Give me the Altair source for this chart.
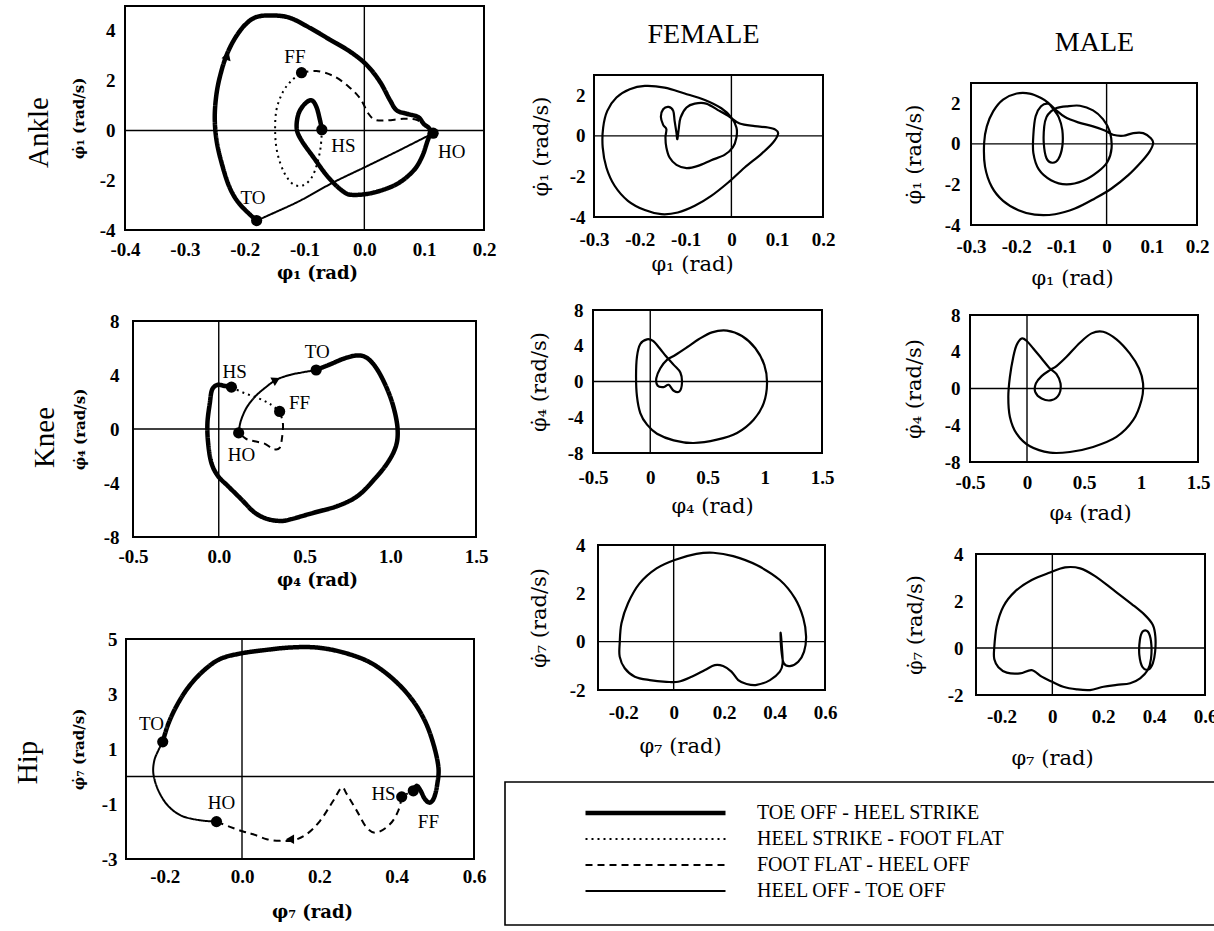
import altair as alt
import pandas as pd

W, H = 1214, 931
TICK_FONT = "Liberation Serif"
TITLE_FONT = "DejaVu Serif"
TEXT_FONT = "Liberation Serif"

# ---------------------------------------------------------------- gait phases
PHASES = ["TOE OFF - HEEL STRIKE", "HEEL STRIKE - FOOT FLAT",
          "FOOT FLAT - HEEL OFF", "HEEL OFF - TOE OFF"]
PHASE_DASH = [[1, 0], [2, 4], [7, 5], [1, 0]]
PHASE_WIDTH = [4.5, 2, 2, 2]

# ---------------------------------------------------------------- ankle (phi_1)
ANKLE_SWING_X = [-0.180, -0.208, -0.225, -0.238, -0.247, -0.250, -0.247, -0.240, -0.230, -0.216,
                 -0.199, -0.180, -0.152, -0.124, -0.091, -0.057, -0.024, 0.004, 0.026, 0.043,
                 0.054, 0.071, 0.090, 0.099, 0.110, 0.104, 0.096, 0.082, 0.054, 0.015,
                 -0.018, -0.035, -0.060, -0.085, -0.105, -0.113, -0.110, -0.099, -0.088, -0.080,
                 -0.074, -0.071]
ANKLE_SWING_Y = [-3.62, -2.97, -2.30, -1.35, -0.40, 0.54, 1.48, 2.29, 3.04, 3.71,
                 4.25, 4.56, 4.62, 4.52, 4.12, 3.64, 3.17, 2.63, 1.96, 1.21,
                 0.81, 0.67, 0.54, 0.27, 0.00, -0.54, -1.08, -1.62, -2.16, -2.50,
                 -2.59, -2.46, -1.89, -1.08, -0.40, 0.07, 0.67, 1.08, 1.21, 0.94,
                 0.40, 0.03]
ANKLE_LOAD_X = [-0.071, -0.073, -0.079, -0.088, -0.102, -0.119, -0.134, -0.145, -0.149, -0.147,
                -0.136, -0.121, -0.105]
ANKLE_LOAD_Y = [0.03, -0.67, -1.35, -1.89, -2.20, -2.16, -1.69, -0.94, -0.13, 0.81,
                1.55, 2.02, 2.32]
ANKLE_FLAT_X = [-0.105, -0.080, -0.052, -0.027, -0.007, 0.007, 0.018, 0.037, 0.065, 0.087,
                0.101, 0.115]
ANKLE_FLAT_Y = [2.32, 2.39, 2.19, 1.78, 1.28, 0.67, 0.43, 0.40, 0.47, 0.43,
                0.20, -0.11]
ANKLE_PUSH_X = [0.115, 0.060, 0.004, -0.052, -0.108, -0.163, -0.180]
ANKLE_PUSH_Y = [-0.11, -0.78, -1.44, -2.09, -2.83, -3.44, -3.62]
ANKLE_EVENT = ["TO", "HS", "FF", "HO"]
ANKLE_EVENT_X = [-0.180, -0.071, -0.105, 0.115]
ANKLE_EVENT_Y = [-3.62, 0.03, 2.32, -0.11]
ANKLE_TAG_X = [-0.186, -0.035, -0.116, 0.146]
ANKLE_TAG_Y = [-2.70, -0.61, 2.97, -0.88]
ANKLE_ARROW_X = [-0.229]
ANKLE_ARROW_Y = [3.00]

# ---------------------------------------------------------------- knee (phi_4)
KNEE_SWING_X = [0.568, 0.655, 0.733, 0.810, 0.868, 0.926, 0.984, 1.023, 1.043, 1.033,
                0.984, 0.907, 0.810, 0.694, 0.558, 0.422, 0.364, 0.287, 0.209, 0.132,
                0.054, -0.004, -0.043, -0.062, -0.066, -0.052, -0.039, -0.008, 0.035, 0.074]
KNEE_SWING_Y = [4.37, 4.82, 5.23, 5.45, 5.23, 4.37, 2.90, 1.43, -0.05, -1.28,
                -2.51, -3.73, -4.96, -5.70, -6.19, -6.68, -6.81, -6.68, -6.19, -5.21,
                -4.23, -3.49, -2.51, -1.03, 0.44, 1.92, 2.90, 3.27, 3.19, 3.10]
KNEE_LOAD_X = [0.074, 0.151, 0.229, 0.297, 0.355]
KNEE_LOAD_Y = [3.10, 2.65, 2.29, 1.87, 1.30]
KNEE_FLAT_X = [0.355, 0.374, 0.370, 0.355, 0.316, 0.267, 0.209, 0.161, 0.116]
KNEE_FLAT_Y = [1.30, 0.44, -0.54, -1.40, -1.47, -1.08, -0.91, -0.74, -0.29]
KNEE_PUSH_X = [0.116, 0.128, 0.161, 0.209, 0.267, 0.335, 0.413, 0.490, 0.568]
KNEE_PUSH_Y = [-0.29, 0.57, 1.55, 2.36, 3.02, 3.64, 4.00, 4.20, 4.37]
KNEE_EVENT = ["TO", "HS", "FF", "HO"]
KNEE_EVENT_X = [0.568, 0.074, 0.355, 0.116]
KNEE_EVENT_Y = [4.37, 3.10, 1.30, -0.29]
KNEE_TAG_X = [0.574, 0.093, 0.471, 0.132]
KNEE_TAG_Y = [5.72, 4.25, 1.92, -1.89]
KNEE_ARROW_X = [0.335]
KNEE_ARROW_Y = [3.64]

# ---------------------------------------------------------------- hip (phi_7)
HIP_SWING_X = [-0.205, -0.191, -0.169, -0.139, -0.100, -0.057, -0.005, 0.055, 0.124, 0.193,
               0.262, 0.331, 0.391, 0.439, 0.473, 0.495, 0.508, 0.505, 0.497, 0.486,
               0.473, 0.462, 0.452, 0.443]
HIP_SWING_Y = [1.26, 1.90, 2.57, 3.24, 3.84, 4.27, 4.47, 4.59, 4.69, 4.69,
               4.51, 4.15, 3.54, 2.81, 2.02, 1.18, 0.33, -0.28, -0.76, -0.95,
               -0.82, -0.52, -0.34, -0.52]
HIP_LOAD_X = [0.443, 0.428, 0.413]
HIP_LOAD_Y = [-0.52, -0.62, -0.74]
HIP_FLAT_X = [0.413, 0.404, 0.383, 0.348, 0.322, 0.297, 0.271, 0.258, 0.236, 0.202,
              0.167, 0.133, 0.098, 0.064, 0.029, 0.003, -0.031, -0.066]
HIP_FLAT_Y = [-0.74, -1.25, -1.73, -2.04, -1.85, -1.25, -0.64, -0.40, -0.88, -1.61,
              -2.10, -2.32, -2.34, -2.28, -2.10, -2.00, -1.83, -1.64]
HIP_PUSH_X = [-0.066, -0.109, -0.156, -0.191, -0.216, -0.229, -0.227, -0.216, -0.205]
HIP_PUSH_Y = [-1.64, -1.59, -1.43, -1.07, -0.52, 0.08, 0.57, 0.96, 1.26]
HIP_EVENT = ["TO", "HO", "HS", "FF"]
HIP_EVENT_X = [-0.205, -0.066, 0.443, 0.413]
HIP_EVENT_Y = [1.26, -1.64, -0.52, -0.74]
HIP_TAG_X = [-0.234, -0.053, 0.366, 0.482]
HIP_TAG_Y = [1.90, -0.95, -0.64, -1.64]
HIP_ARROW_X = [0.124]
HIP_ARROW_Y = [-2.28]

# ---------------------------------------------------------------- female cycles
F_ANKLE_X = [0.102, 0.091, 0.065, 0.029, -0.007, -0.044, -0.080, -0.117, -0.153, -0.189,
             -0.226, -0.255, -0.273, -0.281, -0.280, -0.271, -0.251, -0.222, -0.189, -0.146,
             -0.102, -0.058, -0.022, 0.000, 0.011, 0.011, 0.003, -0.015, -0.044, -0.073,
             -0.098, -0.120, -0.135, -0.142, -0.144, -0.142, -0.149, -0.154, -0.149, -0.137,
             -0.127, -0.124, -0.120, -0.118, -0.115, -0.111, -0.098, -0.080, -0.055, -0.026,
             -0.004, 0.018, 0.051, 0.080, 0.096]
F_ANKLE_Y = [0.11, -0.33, -0.90, -1.56, -2.30, -2.96, -3.45, -3.78, -3.86, -3.66,
             -3.20, -2.46, -1.56, -0.57, 0.41, 1.23, 1.89, 2.30, 2.46, 2.38,
             2.09, 1.77, 1.36, 0.90, 0.41, -0.08, -0.57, -0.94, -1.20, -1.48,
             -1.59, -1.43, -1.07, -0.57, -0.08, 0.33, 0.54, 0.94, 1.31, 1.43,
             1.23, 0.74, 0.16, -0.16, 0.33, 0.90, 1.40, 1.59, 1.59, 1.23,
             0.94, 0.61, 0.48, 0.41, 0.31]
F_KNEE_X = [-0.028, -0.087, -0.116, -0.124, -0.116, -0.087, -0.028, 0.059, 0.205, 0.379,
            0.583, 0.758, 0.903, 0.991, 1.020, 0.996, 0.918, 0.801, 0.670, 0.539,
            0.423, 0.321, 0.219, 0.146, 0.088, 0.053, 0.065, 0.117, 0.161, 0.205,
            0.254, 0.277, 0.263, 0.205, 0.140, 0.082, 0.024]
F_KNEE_Y = [4.72, 4.20, 2.79, 0.56, -1.67, -3.53, -4.83, -5.84, -6.58, -6.88,
            -6.51, -5.76, -4.28, -2.42, -0.19, 1.86, 3.72, 5.09, 5.69, 5.50,
            4.72, 3.83, 2.97, 2.42, 1.49, 0.37, -0.48, -0.63, -0.37, -1.04,
            -1.12, -0.19, 1.00, 1.86, 2.79, 3.72, 4.54]
F_HIP_X = [-0.214, -0.207, -0.181, -0.135, -0.068, 0.004, 0.090, 0.157, 0.236, 0.329,
           0.421, 0.481, 0.514, 0.525, 0.517, 0.494, 0.461, 0.437, 0.429, 0.425,
           0.424, 0.429, 0.432, 0.421, 0.382, 0.329, 0.289, 0.256, 0.229, 0.196,
           0.163, 0.124, 0.071, 0.018, -0.029, -0.095, -0.154, -0.194, -0.214]
F_HIP_Y = [-0.07, 0.76, 1.59, 2.41, 3.03, 3.38, 3.63, 3.68, 3.54, 3.17,
           2.55, 1.79, 0.97, 0.21, -0.41, -0.83, -1.01, -0.90, -0.52, -0.07,
           0.37, -0.21, -0.90, -1.24, -1.59, -1.79, -1.75, -1.59, -1.24, -1.01,
           -0.97, -1.17, -1.45, -1.66, -1.66, -1.59, -1.45, -1.10, -0.62]

# ---------------------------------------------------------------- male cycles
M_ANKLE_X = [0.103, 0.095, 0.077, 0.048, 0.011, -0.026, -0.070, -0.114, -0.159, -0.195,
             -0.229, -0.254, -0.269, -0.271, -0.265, -0.251, -0.229, -0.199, -0.170, -0.145,
             -0.129, -0.118, -0.106, -0.098, -0.098, -0.107, -0.120, -0.133, -0.139, -0.138,
             -0.133, -0.123, -0.111, -0.089, -0.059, -0.030, -0.008, 0.007, 0.011, 0.002,
             -0.019, -0.052, -0.089, -0.123, -0.150, -0.162, -0.162, -0.157, -0.145, -0.129,
             -0.113, -0.092, -0.063, -0.030, -0.004, 0.014, 0.037, 0.059, 0.081, 0.098]
M_ANKLE_Y = [0.03, -0.38, -0.88, -1.54, -2.20, -2.69, -3.19, -3.47, -3.49, -3.27,
             -2.81, -2.12, -1.12, 0.03, 0.86, 1.60, 2.18, 2.48, 2.48, 2.26,
             2.02, 1.72, 1.32, 0.69, -0.13, -0.76, -0.93, -0.71, 0.03, 0.86,
             1.32, 1.60, 1.77, 1.85, 1.88, 1.65, 1.22, 0.61, -0.21, -0.88,
             -1.37, -1.82, -2.00, -1.79, -1.26, -0.46, 0.45, 1.36, 1.85, 1.98,
             1.69, 1.32, 1.06, 0.86, 0.66, 0.45, 0.40, 0.53, 0.53, 0.28]
M_KNEE_X = [-0.047, -0.091, -0.120, -0.150, -0.164, -0.150, -0.091, 0.026, 0.201, 0.376,
            0.580, 0.785, 0.931, 1.004, 1.018, 0.983, 0.901, 0.785, 0.668, 0.566,
            0.464, 0.347, 0.259, 0.201, 0.128, 0.078, 0.072, 0.128, 0.215, 0.282,
            0.294, 0.259, 0.201, 0.128, 0.055, -0.004]
M_KNEE_Y = [5.45, 4.73, 3.45, 1.27, -0.91, -3.09, -4.91, -6.29, -6.98, -6.91,
            -6.36, -5.27, -3.45, -1.27, 0.55, 2.18, 3.82, 5.35, 6.18, 6.00,
            4.98, 3.45, 2.44, 2.00, 1.35, 0.55, -0.36, -1.09, -1.27, -0.62,
            0.55, 1.56, 2.18, 3.27, 4.36, 5.20]
M_HIP_X = [-0.229, -0.219, -0.193, -0.147, -0.081, -0.009, 0.050, 0.109, 0.168, 0.240,
           0.312, 0.364, 0.395, 0.405, 0.404, 0.395, 0.378, 0.355, 0.342, 0.344,
           0.355, 0.375, 0.388, 0.388, 0.375, 0.345, 0.306, 0.253, 0.201, 0.148,
           0.096, 0.043, -0.002, -0.042, -0.081, -0.127, -0.179, -0.212, -0.228]
M_HIP_Y = [-0.09, 0.91, 1.76, 2.40, 2.89, 3.21, 3.43, 3.39, 3.06, 2.47,
           1.87, 1.40, 0.98, 0.48, -0.16, -0.65, -0.91, -0.82, -0.30, 0.34,
           0.70, 0.70, 0.27, -0.44, -0.94, -1.29, -1.50, -1.57, -1.65, -1.79,
           -1.76, -1.65, -1.43, -1.22, -0.94, -1.08, -1.05, -0.82, -0.48]

# ---------------------------------------------------------------- axis ticks
ANKLE_XTICKS = [-0.4, -0.3, -0.2, -0.1, 0.0, 0.1, 0.2]
ANKLE_YTICKS = [-4, -2, 0, 2, 4]
KNEE_XTICKS = [-0.5, 0.0, 0.5, 1.0, 1.5]
KNEE_YTICKS = [-8, -4, 0, 4, 8]
HIP_XTICKS = [-0.2, 0.0, 0.2, 0.4, 0.6]
HIP_YTICKS = [-3, -1, 1, 3, 5]
SMALL_ANKLE_XTICKS = [-0.3, -0.2, -0.1, 0, 0.1, 0.2]
SMALL_ANKLE_YTICKS = [-4, -2, 0, 2]
SMALL_KNEE_XTICKS = [-0.5, 0, 0.5, 1, 1.5]
SMALL_KNEE_YTICKS = [-8, -4, 0, 4, 8]
SMALL_HIP_XTICKS = [-0.2, 0, 0.2, 0.4, 0.6]
SMALL_HIP_YTICKS = [-2, 0, 2, 4]

PHI_DOT = "\u03c6\u0307"
SUB = {1: "\u2081", 4: "\u2084", 7: "\u2087"}


def xt(n):
    return f"\u03c6{SUB[n]} (rad)"


def yt(n):
    return f"{PHI_DOT}{SUB[n]} (rad/s)"


# panel frames on the page: left, right, top, bottom (pixels) plus axis styling
PANELS = {
    "ankle": dict(box=(125, 484, 6, 230), xdom=[-0.4, 0.2], ydom=[-4, 5],
                  xticks=ANKLE_XTICKS, yticks=ANKLE_YTICKS, xfmt=".1f", yfmt="d",
                  xtitle=xt(1), ytitle=yt(1), big=True,
                  xlp=10, xtp=5, ylp=10, ytp=13, title_x=317),
    "knee": dict(box=(133, 476, 321, 537), xdom=[-0.5, 1.5], ydom=[-8, 8],
                 xticks=KNEE_XTICKS, yticks=KNEE_YTICKS, xfmt=".1f", yfmt="d",
                 xtitle=xt(4), ytitle=yt(4), big=True,
                 xlp=10, xtp=5, ylp=14, ytp=16, title_x=317),
    "hip": dict(box=(126, 474, 639, 859), xdom=[-0.3, 0.6], ydom=[-3, 5],
                xticks=HIP_XTICKS, yticks=HIP_YTICKS, xfmt=".1f", yfmt="d",
                xtitle=xt(7), ytitle=yt(7), big=True,
                xlp=8, xtp=17, ylp=9, ytp=15, title_x=312),
    "f_ankle": dict(box=(594, 823, 75, 217), xdom=[-0.3, 0.2], ydom=[-4, 3],
                    xticks=SMALL_ANKLE_XTICKS, yticks=SMALL_ANKLE_YTICKS, xfmt="~g", yfmt="d",
                    xtitle=xt(1), ytitle=yt(1), big=False,
                    xlp=13, xtp=4, ylp=9, ytp=18, title_x=692),
    "f_knee": dict(box=(593, 822, 310, 453), xdom=[-0.5, 1.5], ydom=[-8, 8],
                   xticks=SMALL_KNEE_XTICKS, yticks=SMALL_KNEE_YTICKS, xfmt="~g", yfmt="d",
                   xtitle=xt(4), ytitle=yt(4), big=False,
                   xlp=15, xtp=8, ylp=10, ytp=18, title_x=712),
    "f_hip": dict(box=(598, 825, 545, 690), xdom=[-0.3, 0.6], ydom=[-2, 4],
                  xticks=SMALL_HIP_XTICKS, yticks=SMALL_HIP_YTICKS, xfmt="~g", yfmt="d",
                  xtitle=xt(7), ytitle=yt(7), big=False,
                  xlp=13, xtp=13, ylp=13, ytp=20, title_x=680),
    "m_ankle": dict(box=(971, 1197, 83, 225), xdom=[-0.3, 0.2], ydom=[-4, 3],
                    xticks=SMALL_ANKLE_XTICKS, yticks=SMALL_ANKLE_YTICKS, xfmt="~g", yfmt="d",
                    xtitle=xt(1), ytitle=yt(1), big=False,
                    xlp=12, xtp=11, ylp=11, ytp=20, title_x=1072),
    "m_knee": dict(box=(970, 1198, 315, 462), xdom=[-0.5, 1.5], ydom=[-8, 8],
                   xticks=SMALL_KNEE_XTICKS, yticks=SMALL_KNEE_YTICKS, xfmt="~g", yfmt="d",
                   xtitle=xt(4), ytitle=yt(4), big=False,
                   xlp=11, xtp=10, ylp=10, ytp=20, title_x=1090),
    "m_hip": dict(box=(976, 1205, 554, 695), xdom=[-0.3, 0.6], ydom=[-2, 4],
                  xticks=SMALL_HIP_XTICKS, yticks=SMALL_HIP_YTICKS, xfmt="~g", yfmt="d",
                  xtitle=xt(7), ytitle=yt(7), big=False,
                  xlp=12, xtp=21, ylp=13, ytp=22, title_x=1052),
}

# box holding the phase legend (it runs on past the right edge of the page)
LEGEND_BOX = (505, 1240, 782, 925)

# big row labels (text, anchor x, centre y) and column headings (text, centre x, padding)
ROW_LABELS = {"ankle": ("Ankle", 53, 132), "knee": ("Knee", 59, 437), "hip": ("Hip", 42, 762)}
COL_HEADS = {"f_ankle": ("FEMALE", 703, 27), "m_ankle": ("MALE", 1094, 27)}


def label_expr(spec):
    return f"replace(format(datum.value, '{spec}'), '\u2212', '-')"


def scales(p):
    left, right, top, bottom = p["box"]
    xs = alt.Scale(domain=p["xdom"], range=[left, right], nice=False, zero=False)
    ys = alt.Scale(domain=p["ydom"], range=[bottom, top], nice=False, zero=False)
    return xs, ys


def x_fonts(p):
    if p["big"]:
        return dict(titleFont=TITLE_FONT, titleFontSize=18, titleFontWeight="bold")
    return dict(titleFont=TITLE_FONT, titleFontSize=21, titleFontWeight="normal")


def y_fonts(p):
    if p["big"]:
        return dict(titleFont=TITLE_FONT, titleFontSize=15, titleFontWeight="bold")
    return dict(titleFont=TITLE_FONT, titleFontSize=21, titleFontWeight="normal")


def x_axis(p):
    left, right, top, bottom = p["box"]
    return alt.Axis(orient="bottom", offset=bottom - H, values=p["xticks"],
                    labelExpr=label_expr(p["xfmt"]), title=p["xtitle"], titleX=p["title_x"],
                    titlePadding=p["xtp"], labelPadding=p["xlp"], ticks=False, domain=False,
                    grid=False, labelFlush=False, labelOverlap=False, labelFont=TICK_FONT,
                    labelFontSize=19, labelFontWeight="bold", labelColor="black",
                    titleColor="black", **x_fonts(p))


def y_axis(p):
    left, right, top, bottom = p["box"]
    return alt.Axis(orient="left", offset=-left, values=p["yticks"],
                    labelExpr=label_expr(p["yfmt"]), title=p["ytitle"],
                    titlePadding=p["ytp"], labelPadding=p["ylp"], ticks=False, domain=False,
                    grid=False, labelFlush=False, labelOverlap=False, labelFont=TICK_FONT,
                    labelFontSize=19, labelFontWeight="bold", labelColor="black",
                    titleColor="black", **y_fonts(p))


def frame_layers(key):
    p = PANELS[key]
    xs, ys = scales(p)
    box = pd.DataFrame({"x0": [p["xdom"][0]], "x1": [p["xdom"][1]],
                        "y0": [p["ydom"][0]], "y1": [p["ydom"][1]], "zero": [0.0]})
    frame = alt.Chart(box).mark_rect(fillOpacity=0, stroke="black", strokeWidth=2).encode(
        x=alt.X("x0:Q", scale=xs, axis=x_axis(p)), x2="x1:Q",
        y=alt.Y("y0:Q", scale=ys, axis=y_axis(p)), y2="y1:Q")

    if key in COL_HEADS:
        text, cx, pad = COL_HEADS[key]
        top_axis = alt.Axis(orient="top", offset=-p["box"][2], labels=False, ticks=False,
                            domain=False, grid=False, title=text, titleX=cx, titlePadding=pad,
                            titleFont=TEXT_FONT, titleFontSize=28, titleFontWeight="normal",
                            titleColor="black")
        vx = alt.X("zero:Q", scale=xs, axis=top_axis)
    else:
        vx = alt.X("zero:Q", scale=xs, axis=None)
    vrule = alt.Chart(box).mark_rule(color="black", strokeWidth=1.4).encode(
        x=vx, y=alt.Y("y0:Q", scale=ys, axis=None), y2="y1:Q")

    if key in ROW_LABELS:
        text, ax, cy = ROW_LABELS[key]
        row_axis = alt.Axis(orient="left", offset=-ax, labels=False, ticks=False, domain=False,
                            grid=False, title=text, titleY=cy, titlePadding=0,
                            titleFont=TEXT_FONT, titleFontSize=29, titleFontWeight="normal",
                            titleColor="black")
        hy = alt.Y("zero:Q", scale=ys, axis=row_axis)
    else:
        hy = alt.Y("zero:Q", scale=ys, axis=None)
    hrule = alt.Chart(box).mark_rule(color="black", strokeWidth=1.4).encode(
        y=hy, x=alt.X("x0:Q", scale=xs, axis=None), x2="x1:Q")
    return [frame, vrule, hrule]


def legend_box_layer():
    left, right, top, bottom = LEGEND_BOX
    xs = alt.Scale(domain=[0, 1], range=[left, right], nice=False, zero=False)
    ys = alt.Scale(domain=[0, 1], range=[bottom, top], nice=False, zero=False)
    box = pd.DataFrame({"x0": [0], "x1": [1], "y0": [0], "y1": [1]})
    return alt.Chart(box).mark_rect(fillOpacity=0, stroke="black", strokeWidth=1.6).encode(
        x=alt.X("x0:Q", scale=xs, axis=None), x2="x1:Q",
        y=alt.Y("y0:Q", scale=ys, axis=None), y2="y1:Q")


LEGEND = alt.Legend(title=None, orient="none", legendX=505, legendY=782, symbolType="stroke",
                    symbolSize=19600, clipHeight=26, rowPadding=0, padding=18,
                    symbolOffset=60, labelOffset=29,
                    labelFont=TEXT_FONT, labelFontSize=20, labelColor="black", labelLimit=600,
                    symbolStrokeColor="black")


def phase_layers(key, segments, events, tags, arrow):
    p = PANELS[key]
    xs, ys = scales(p)
    rows = []
    k = 0
    for phase, (seg_x, seg_y) in zip(PHASES, segments):
        for x, y in zip(seg_x, seg_y):
            rows.append({"phase": phase, "i": k, "x": x, "y": y})
            k += 1
    df = pd.DataFrame(rows)
    curves = alt.Chart(df).mark_line(color="black", interpolate="cardinal", strokeCap="butt").encode(
        x=alt.X("x:Q", scale=xs, axis=None),
        y=alt.Y("y:Q", scale=ys, axis=None),
        strokeDash=alt.StrokeDash("phase:N", scale=alt.Scale(domain=PHASES, range=PHASE_DASH),
                                  legend=LEGEND),
        strokeWidth=alt.StrokeWidth("phase:N", scale=alt.Scale(type="ordinal", domain=PHASES,
                                                               range=PHASE_WIDTH),
                                    legend=LEGEND),
        order=alt.Order("i:Q"),
    )
    names, ex, ey = events
    ev = pd.DataFrame({"event": names, "x": ex, "y": ey})
    dots = alt.Chart(ev).mark_circle(size=125, color="black", opacity=1).encode(
        x=alt.X("x:Q", scale=xs, axis=None), y=alt.Y("y:Q", scale=ys, axis=None))
    tx, ty = tags
    tg = pd.DataFrame({"event": names, "x": tx, "y": ty})
    text = alt.Chart(tg).mark_text(font=TEXT_FONT, fontSize=19, color="black").encode(
        x=alt.X("x:Q", scale=xs, axis=None), y=alt.Y("y:Q", scale=ys, axis=None), text="event:N")
    (ax, ay), shape, angle = arrow
    ar = pd.DataFrame({"x": ax, "y": ay})
    head = alt.Chart(ar).mark_point(shape=shape, angle=angle, filled=True, color="black",
                                    size=90, opacity=1).encode(
        x=alt.X("x:Q", scale=xs, axis=None), y=alt.Y("y:Q", scale=ys, axis=None))
    return [curves, dots, text, head]


def cycle_layer(key, cx, cy):
    p = PANELS[key]
    xs, ys = scales(p)
    df = pd.DataFrame({"i": range(len(cx)), "x": cx, "y": cy})
    return alt.Chart(df).mark_line(color="black", strokeWidth=2.2,
                                   interpolate="cardinal-closed").encode(
        x=alt.X("x:Q", scale=xs, axis=None), y=alt.Y("y:Q", scale=ys, axis=None),
        order=alt.Order("i:Q"))


layers = [legend_box_layer()]
layers += frame_layers("ankle")
layers += phase_layers("ankle",
                       [(ANKLE_SWING_X, ANKLE_SWING_Y), (ANKLE_LOAD_X, ANKLE_LOAD_Y),
                        (ANKLE_FLAT_X, ANKLE_FLAT_Y), (ANKLE_PUSH_X, ANKLE_PUSH_Y)],
                       (ANKLE_EVENT, ANKLE_EVENT_X, ANKLE_EVENT_Y), (ANKLE_TAG_X, ANKLE_TAG_Y),
                       ((ANKLE_ARROW_X, ANKLE_ARROW_Y), "triangle-up", 18))
layers += frame_layers("knee")
layers += phase_layers("knee",
                       [(KNEE_SWING_X, KNEE_SWING_Y), (KNEE_LOAD_X, KNEE_LOAD_Y),
                        (KNEE_FLAT_X, KNEE_FLAT_Y), (KNEE_PUSH_X, KNEE_PUSH_Y)],
                       (KNEE_EVENT, KNEE_EVENT_X, KNEE_EVENT_Y), (KNEE_TAG_X, KNEE_TAG_Y),
                       ((KNEE_ARROW_X, KNEE_ARROW_Y), "triangle-right", 332))
layers += frame_layers("hip")
layers += phase_layers("hip",
                       [(HIP_SWING_X, HIP_SWING_Y), (HIP_LOAD_X, HIP_LOAD_Y),
                        (HIP_FLAT_X, HIP_FLAT_Y), (HIP_PUSH_X, HIP_PUSH_Y)],
                       (HIP_EVENT, HIP_EVENT_X, HIP_EVENT_Y), (HIP_TAG_X, HIP_TAG_Y),
                       ((HIP_ARROW_X, HIP_ARROW_Y), "triangle-left", 0))

for key, cx, cy in [("f_ankle", F_ANKLE_X, F_ANKLE_Y), ("f_knee", F_KNEE_X, F_KNEE_Y),
                    ("f_hip", F_HIP_X, F_HIP_Y), ("m_ankle", M_ANKLE_X, M_ANKLE_Y),
                    ("m_knee", M_KNEE_X, M_KNEE_Y), ("m_hip", M_HIP_X, M_HIP_Y)]:
    layers += frame_layers(key)
    layers.append(cycle_layer(key, cx, cy))

chart = (
    alt.layer(*layers)
    .resolve_scale(x="independent", y="independent")
    .properties(width=W, height=H, padding=0, background="white",
                autosize=alt.AutoSizeParams(type="none"))
    .configure_view(strokeWidth=0)
)

chart.save("out.html", embed_options={"renderer": "svg", "actions": False})
